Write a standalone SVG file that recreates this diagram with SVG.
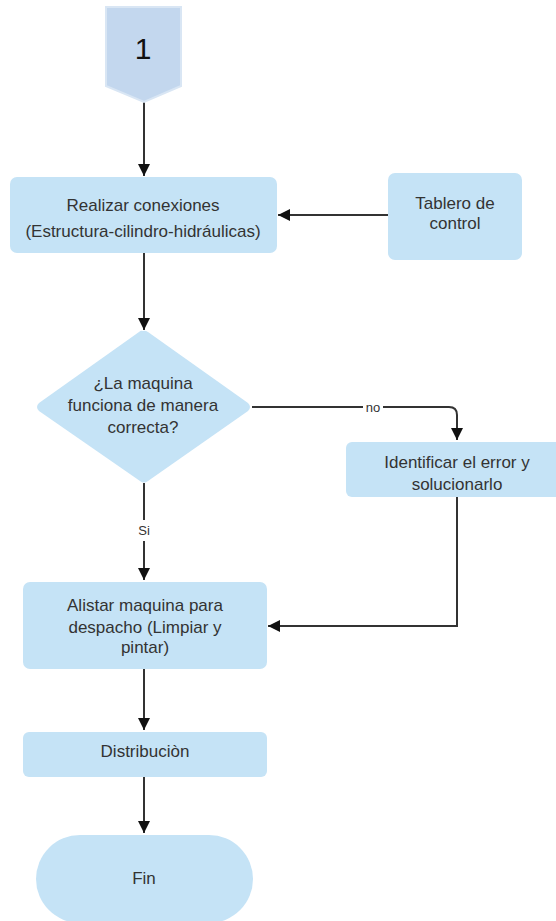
<svg xmlns="http://www.w3.org/2000/svg" width="556" height="921" viewBox="0 0 556 921">
<style>
.n{fill:#c5e3f6;stroke:none}
.t{font-family:"Liberation Sans",Arial,sans-serif;font-size:17px;fill:#333;text-anchor:middle}
.c{fill:none;stroke:#333;stroke-width:2}
.lb{font-family:"Liberation Sans",Arial,sans-serif;font-size:13px;fill:#333;text-anchor:middle}
</style>
<defs>
<marker id="a" viewBox="0 0 12 12" refX="12" refY="6" markerWidth="12" markerHeight="12" markerUnits="userSpaceOnUse" orient="auto">
<path d="M0,0 L12,6 L0,12 Z" fill="#111"/>
</marker>
</defs>
<rect width="556" height="921" fill="#fff"/>
<g id="connectors">
<path class="c" d="M144,102 V176" marker-end="url(#a)"/>
<path class="c" d="M388,215 H278" marker-end="url(#a)"/>
<path class="c" d="M144,253 V330" marker-end="url(#a)"/>
<path class="c" d="M252,407 H449 Q457,407 457,415 V440" marker-end="url(#a)"/>
<rect x="363" y="400" width="20" height="13" fill="#fff"/>
<text class="lb" x="373" y="412">no</text>
<path class="c" d="M144,483 V520 M144,541 V580" marker-end="url(#a)"/>
<text class="lb" x="144" y="535">Si</text>
<path class="c" d="M457,497 V626 H268" marker-end="url(#a)"/>
<path class="c" d="M144,669 V730" marker-end="url(#a)"/>
<path class="c" d="M144,777 V833" marker-end="url(#a)"/>
</g>
<g id="start">
<path d="M106,7 H181 V86 L144,102 L106,86 Z" fill="#c3d7ee" stroke="#d9e6f4" stroke-width="2"/>
<text x="143" y="59" font-family="'Liberation Sans',Arial,sans-serif" font-size="30" fill="#111" text-anchor="middle">1</text>
</g>
<g id="realizar">
<rect class="n" x="10" y="177" width="267" height="76" rx="7"/>
<text class="t" x="143" y="211">Realizar conexiones</text>
<text class="t" x="143" y="237">(Estructura-cilindro-hidráulicas)</text>
</g>
<g id="tablero">
<rect class="n" x="388" y="173" width="134" height="87" rx="7"/>
<text class="t" x="455" y="209">Tablero de</text>
<text class="t" x="455" y="229">control</text>
</g>
<g id="decision">
<path class="n" d="M143,331 Q145,330 148,332 L248,403 Q252,407 248,411 L148,481 Q144,484 140,481 L39,411 Q35,407 39,403 L139,332 Q141,330 143,331 Z"/>
<text class="t" x="143" y="389">¿La maquina</text>
<text class="t" x="143" y="411">funciona de manera</text>
<text class="t" x="143" y="433">correcta?</text>
</g>
<g id="identificar">
<rect class="n" x="346" y="442" width="216" height="55" rx="6"/>
<text class="t" x="457" y="468">Identificar el error y</text>
<text class="t" x="457" y="490">solucionarlo</text>
</g>
<g id="alistar">
<rect class="n" x="23" y="582" width="244" height="87" rx="7"/>
<text class="t" x="145" y="611">Alistar maquina para</text>
<text class="t" x="145" y="633">despacho (Limpiar y</text>
<text class="t" x="145" y="653">pintar)</text>
</g>
<g id="distribucion">
<rect class="n" x="23" y="732" width="244" height="45" rx="6"/>
<text class="t" x="145" y="757">Distribuciòn</text>
</g>
<g id="fin">
<rect class="n" x="36" y="835" width="217" height="88" rx="44"/>
<text class="t" x="144" y="884">Fin</text>
</g>
</svg>
